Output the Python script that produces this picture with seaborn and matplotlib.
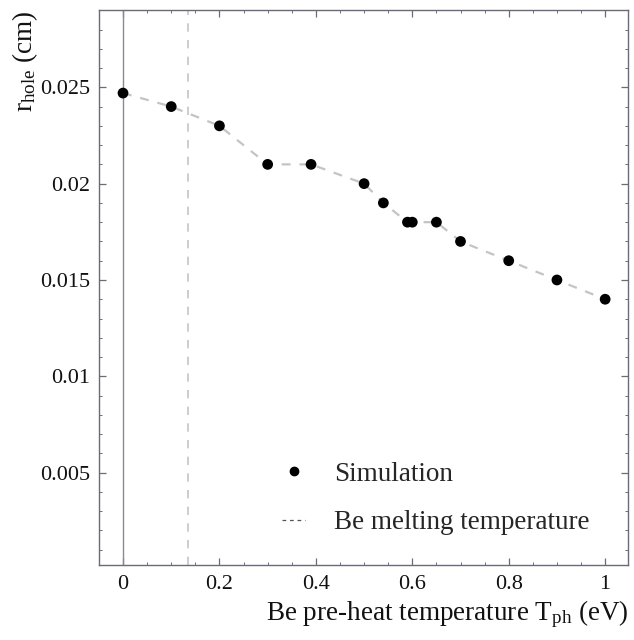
import matplotlib
matplotlib.use("Agg")
import matplotlib.pyplot as plt
from matplotlib.lines import Line2D
from matplotlib.ticker import MultipleLocator, FuncFormatter
import seaborn as sns
import pandas as pd

# Simulation: hole radius vs Be pre-heat temperature
t_ph = [0.0, 0.1, 0.2, 0.3, 0.39, 0.5, 0.54, 0.59, 0.6, 0.65, 0.7, 0.8, 0.9, 1.0]
r_hole = [0.0247, 0.024, 0.023, 0.021, 0.021, 0.020, 0.019, 0.018, 0.018,
          0.018, 0.017, 0.016, 0.015, 0.014]
t_melt = 0.135  # Be melting temperature (eV)

x_ticks = [0, 0.2, 0.4, 0.6, 0.8, 1.0]
y_ticks = [0.005, 0.01, 0.015, 0.02, 0.025]

sns.set_theme(style="ticks")
plt.rcParams["font.family"] = ["Liberation Serif", "DejaVu Serif"]
plt.rcParams["mathtext.fontset"] = "custom"
plt.rcParams["mathtext.rm"] = "Liberation Serif"
plt.rcParams["mathtext.it"] = "Liberation Serif:italic"

df = pd.DataFrame({"t_ph": t_ph, "r_hole": r_hole})

fig = plt.figure(figsize=(6.34, 6.40), dpi=100)
ax = fig.add_axes([0.156, 0.117, 0.835, 0.867])

ax.axvline(0, color="#8a8a96", lw=1.0, zorder=1)
ax.axvline(t_melt, color="#c4c4cc", lw=1.2, ls=(0, (5, 5)), zorder=1)

sns.lineplot(data=df, x="t_ph", y="r_hole", ax=ax, sort=False, color="#c4c4c4",
             lw=1.6, dashes=False, zorder=2)
ax.lines[-1].set_linestyle((0, (4, 4)))
sns.scatterplot(data=df, x="t_ph", y="r_hole", ax=ax, color="black", s=60,
                edgecolor="none", zorder=3)

ax.set_xlim(-0.05, 1.048)
ax.set_ylim(0.0002, 0.029)
ax.set_xticks(x_ticks)
ax.set_yticks(y_ticks)
ax.xaxis.set_minor_locator(MultipleLocator(0.05))
ax.yaxis.set_minor_locator(MultipleLocator(0.001))
ax.xaxis.set_major_formatter(FuncFormatter(lambda v, p: f"{v:g}"))
ax.yaxis.set_major_formatter(FuncFormatter(lambda v, p: f"{v:g}"))
ax.tick_params(which="both", direction="in", top=True, right=True,
               color="#6a6a7a", labelsize=16, labelcolor="#111111")
ax.tick_params(which="major", length=5, width=0.9)
ax.tick_params(which="minor", length=2.5, width=0.7)
ax.tick_params(axis="x", pad=7)
ax.tick_params(axis="y", pad=6)
for sp in ax.spines.values():
    sp.set_color("#6a6a7a")
    sp.set_linewidth(1.0)

ax.set_xlabel(r"Be pre-heat temperature T$_{\mathrm{ph}}$ (eV)", fontsize=19.5,
              loc="right", labelpad=3, color="#111111")
ax.set_ylabel(r"r$_{\mathrm{hole}}$ (cm)", fontsize=19.5, loc="top",
              labelpad=0, color="#111111")

handles = [
    Line2D([], [], marker="o", color="black", ls="none", markersize=6),
    Line2D([], [], color="#555555", lw=0.9, ls=(0, (3, 3))),
]
ax.legend(handles, ["Simulation", "Be melting temperature"], loc="lower left",
          bbox_to_anchor=(0.30, 0.01), frameon=False, fontsize=19.5,
          handlelength=0.85, handletextpad=1.08, labelspacing=0.86)

fig.savefig("out.png", dpi=100)
